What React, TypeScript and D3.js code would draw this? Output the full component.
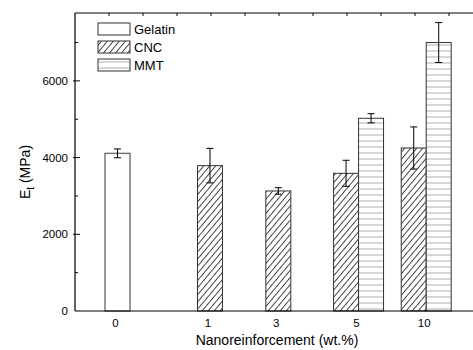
import React, { useEffect, useRef } from 'react';
import * as d3 from 'd3';

// loading levels (wt.%) shown on the x axis
const levels = ['0', '1', '3', '5', '10'];
// group centre in axis units (top-axis tick spacing)
const levelPos = [1.25, 3.97, 5.98, 8.34, 10.33];

const series = ['Gelatin', 'CNC', 'MMT'];

// tensile modulus E_t (MPa) and std dev; null where no bar
const gelatinVals = [4110, null, null, null, null];
const gelatinErr = [115, null, null, null, null];
const cncVals = [null, 3790, 3130, 3590, 4250];
const cncErr = [null, 450, 85, 340, 550];
const mmtVals = [null, null, null, 5025, 7000];
const mmtErr = [null, null, null, 120, 520];

const yTicks = [0, 2000, 4000, 6000];
const yMinor = [1000, 3000, 5000, 7000];

export default function App() {
  const ref = useRef<SVGSVGElement>(null);

  useEffect(() => {
    const w = 473;
    const left = 75, top = 13, bottom = 311;
    const svg = d3.select(ref.current);
    svg.selectAll('*').remove();

    const x = d3.scaleLinear().domain([0, 11.7]).range([left, left + 11.7 * 34]);
    const y = d3.scaleLinear().domain([0, 7770]).range([bottom, top]);
    const pos = d3.scaleOrdinal<string, number>().domain(levels).range(levelPos);
    const barW = x(0.735) - x(0);

    const defs = svg.append('defs');
    const hatch = defs.append('pattern')
      .attr('id', 'hatch')
      .attr('patternUnits', 'userSpaceOnUse')
      .attr('width', 4.6).attr('height', 6)
      .attr('patternTransform', 'rotate(40)');
    hatch.append('rect').attr('width', 4.6).attr('height', 6).attr('fill', '#fff');
    hatch.append('line')
      .attr('x1', 0.5).attr('y1', 0).attr('x2', 0.5).attr('y2', 6)
      .attr('stroke', '#2a2a2a').attr('stroke-width', 0.9);

    const hlines = defs.append('pattern')
      .attr('id', 'hlines')
      .attr('patternUnits', 'userSpaceOnUse')
      .attr('width', 6).attr('height', 6);
    hlines.append('rect').attr('width', 6).attr('height', 6).attr('fill', '#fff');
    hlines.append('line')
      .attr('x1', 0).attr('y1', 3).attr('x2', 6).attr('y2', 3)
      .attr('stroke', '#b0b0b0').attr('stroke-width', 1);

    const font = 'Liberation Sans, Arial, sans-serif';

    // bars
    const groups = [
      { name: 'Gelatin', vals: gelatinVals, errs: gelatinErr, fill: '#fff', stroke: '#6e6e6e' },
      { name: 'CNC', vals: cncVals, errs: cncErr, fill: 'url(#hatch)', stroke: '#333' },
      { name: 'MMT', vals: mmtVals, errs: mmtErr, fill: 'url(#hlines)', stroke: '#333' },
    ];

    levels.forEach((lv, i) => {
      const present = groups.filter(g => g.vals[i] != null);
      const n = present.length;
      present.forEach((g, k) => {
        const cx = x(pos(lv)) + (k - (n - 1) / 2) * barW;
        const v = g.vals[i] as number;
        const e = g.errs[i] as number;
        svg.append('rect')
          .attr('x', cx - barW / 2)
          .attr('y', y(v))
          .attr('width', barW)
          .attr('height', y(0) - y(v))
          .attr('fill', g.fill)
          .attr('stroke', g.stroke)
          .attr('stroke-width', g.name === 'Gelatin' ? 1.4 : 1);
        const eb = svg.append('g').attr('stroke', '#000').attr('stroke-width', 1);
        eb.append('line').attr('x1', cx).attr('x2', cx).attr('y1', y(v + e)).attr('y2', y(v - e));
        eb.append('line').attr('x1', cx - 3.5).attr('x2', cx + 3.5).attr('y1', y(v + e)).attr('y2', y(v + e));
        eb.append('line').attr('x1', cx - 3.5).attr('x2', cx + 3.5).attr('y1', y(v - e)).attr('y2', y(v - e));
      });
    });

    // axes frame
    const axis = svg.append('g').attr('stroke', '#000').attr('stroke-width', 1.2);
    axis.append('line').attr('x1', left).attr('x2', w).attr('y1', bottom).attr('y2', bottom);
    axis.append('line').attr('x1', left).attr('x2', left).attr('y1', top).attr('y2', bottom);
    axis.append('line').attr('x1', left).attr('x2', w).attr('y1', top).attr('y2', top);

    // top ticks
    svg.append('g').selectAll('line')
      .data(d3.range(1, 12))
      .join('line')
      .attr('x1', d => x(d)).attr('x2', d => x(d))
      .attr('y1', top).attr('y2', top + 3)
      .attr('stroke', '#000').attr('stroke-width', 1);

    // y ticks
    svg.append('g').selectAll('line')
      .data(yTicks.slice(1))
      .join('line')
      .attr('x1', left - 2).attr('x2', left + 5)
      .attr('y1', d => y(d)).attr('y2', d => y(d))
      .attr('stroke', '#000').attr('stroke-width', 1);
    svg.append('g').selectAll('line')
      .data(yMinor)
      .join('line')
      .attr('x1', left).attr('x2', left + 3)
      .attr('y1', d => y(d)).attr('y2', d => y(d))
      .attr('stroke', '#000').attr('stroke-width', 1);

    svg.append('g').selectAll('text')
      .data(yTicks)
      .join('text')
      .attr('x', left - 7)
      .attr('y', d => y(d) + 4)
      .attr('text-anchor', 'end')
      .attr('font-family', font).attr('font-size', 11.5)
      .text(d => d);

    svg.append('g').selectAll('text')
      .data(levels)
      .join('text')
      .attr('x', d => x(pos(d)) - 2)
      .attr('y', bottom + 16)
      .attr('text-anchor', 'middle')
      .attr('font-family', font).attr('font-size', 11.5)
      .text(d => d);

    // axis titles
    svg.append('text')
      .attr('x', 277).attr('y', 345)
      .attr('text-anchor', 'middle')
      .attr('font-family', font).attr('font-size', 14)
      .text('Nanoreinforcement (wt.%)');

    const yt = svg.append('text')
      .attr('transform', 'translate(30,172) rotate(-90)')
      .attr('text-anchor', 'middle')
      .attr('font-family', font).attr('font-size', 14);
    yt.append('tspan').text('E');
    yt.append('tspan').attr('font-size', 10).attr('dy', 4).text('t');
    yt.append('tspan').attr('dy', -4).text(' (MPa)');

    // legend
    const lg = svg.append('g').attr('transform', 'translate(98,23)');
    series.forEach((s, i) => {
      const g = groups[i];
      lg.append('rect')
        .attr('x', 0).attr('y', i * 18)
        .attr('width', 32).attr('height', 12)
        .attr('fill', g.fill)
        .attr('stroke', '#333').attr('stroke-width', 1);
      lg.append('text')
        .attr('x', 36).attr('y', i * 18 + 11)
        .attr('font-family', font).attr('font-size', 13)
        .text(s);
    });
  }, []);

  return (
    <svg ref={ref} width={473} height={350}
      style={{ position: 'absolute', left: 0, top: 0, background: '#fff' }} />
  );
}
